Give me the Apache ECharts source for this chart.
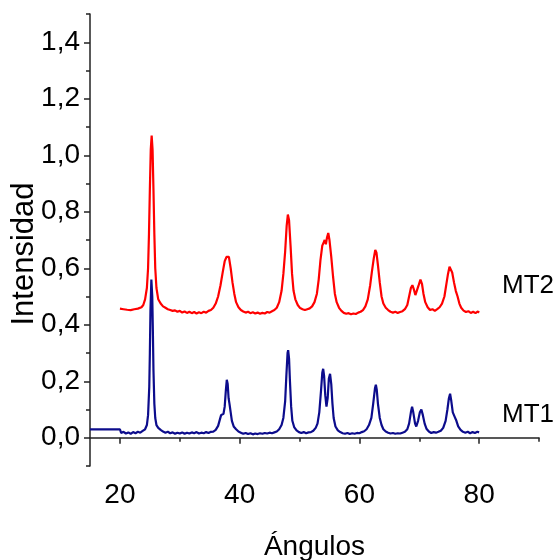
<!DOCTYPE html>
<html>
<head>
<meta charset="utf-8">
<script src="https://cdn.jsdelivr.net/npm/echarts@6/dist/echarts.min.js"></script>
<style>html,body{margin:0;padding:0;background:#fff}#c{width:560px;height:560px}</style>
</head>
<body>
<div id="c"></div>
<script>
// Angle (2θ) / intensity pairs
var mt1 = [
[15.0,0.030],[20.0,0.030],[20.2,0.017],[20.6,0.021],[21.0,0.015],[21.4,0.019],[21.8,0.014],[22.2,0.020],[22.6,0.016],[23.0,0.021],[23.4,0.018],[23.8,0.024],[24.2,0.030],[24.5,0.045],[24.7,0.080],[24.9,0.180],[25.0,0.300],[25.1,0.450],[25.25,0.560],[25.4,0.500],[25.5,0.380],[25.6,0.240],[25.75,0.120],[25.9,0.070],[26.1,0.045],[26.4,0.035],[26.8,0.028],[27.2,0.022],[27.6,0.018],[28.0,0.021],[28.4,0.016],[28.8,0.019],[29.2,0.014],[29.6,0.018],[30.0,0.015],[30.4,0.019],[30.8,0.014],[31.2,0.018],[31.6,0.015],[32.0,0.019],[32.4,0.016],[32.8,0.020],[33.2,0.015],[33.6,0.018],[34.0,0.016],[34.4,0.020],[34.8,0.017],[35.2,0.021],[35.6,0.022],[36.0,0.028],[36.4,0.042],[36.7,0.065],[36.9,0.080],[37.1,0.075],[37.3,0.085],[37.5,0.110],[37.7,0.170],[37.85,0.205],[38.0,0.190],[38.15,0.140],[38.3,0.120],[38.5,0.090],[38.7,0.060],[39.0,0.040],[39.4,0.030],[39.8,0.022],[40.2,0.018],[40.6,0.014],[41.0,0.017],[41.4,0.013],[41.8,0.016],[42.2,0.012],[42.6,0.015],[43.0,0.013],[43.4,0.016],[43.8,0.014],[44.2,0.017],[44.6,0.015],[45.0,0.018],[45.4,0.016],[45.8,0.019],[46.2,0.022],[46.6,0.030],[47.0,0.045],[47.3,0.070],[47.6,0.130],[47.8,0.220],[48.0,0.300],[48.1,0.310],[48.25,0.280],[48.4,0.200],[48.6,0.110],[48.8,0.060],[49.1,0.038],[49.5,0.026],[49.9,0.020],[50.3,0.017],[50.7,0.020],[51.1,0.016],[51.5,0.019],[51.9,0.020],[52.3,0.025],[52.7,0.035],[53.0,0.050],[53.3,0.090],[53.6,0.170],[53.8,0.230],[53.95,0.244],[54.1,0.220],[54.3,0.150],[54.5,0.110],[54.7,0.140],[54.9,0.210],[55.1,0.226],[55.3,0.190],[55.5,0.120],[55.7,0.070],[56.0,0.040],[56.4,0.026],[56.8,0.020],[57.2,0.016],[57.6,0.014],[58.0,0.017],[58.4,0.013],[58.8,0.016],[59.2,0.014],[59.6,0.017],[60.0,0.016],[60.4,0.020],[60.8,0.023],[61.2,0.030],[61.6,0.045],[62.0,0.070],[62.3,0.120],[62.6,0.175],[62.75,0.188],[62.9,0.170],[63.1,0.120],[63.4,0.070],[63.7,0.045],[64.0,0.030],[64.4,0.022],[64.8,0.018],[65.2,0.015],[65.6,0.017],[66.0,0.014],[66.4,0.016],[66.8,0.015],[67.2,0.018],[67.6,0.021],[68.0,0.030],[68.3,0.050],[68.6,0.090],[68.8,0.110],[69.0,0.090],[69.3,0.050],[69.5,0.040],[69.8,0.060],[70.1,0.090],[70.35,0.100],[70.6,0.080],[70.9,0.050],[71.2,0.032],[71.6,0.022],[72.0,0.017],[72.4,0.020],[72.8,0.018],[73.2,0.021],[73.6,0.025],[74.0,0.035],[74.4,0.060],[74.7,0.100],[74.95,0.140],[75.15,0.156],[75.35,0.130],[75.6,0.090],[75.9,0.075],[76.2,0.060],[76.5,0.040],[76.9,0.028],[77.3,0.021],[77.7,0.018],[78.1,0.021],[78.5,0.016],[78.9,0.020],[79.3,0.017],[79.7,0.021],[80.0,0.019]
];
var mt2 = [
[20.0,0.457],[20.3,0.450],[20.6,0.455],[20.9,0.448],[21.2,0.453],[21.5,0.447],[21.8,0.452],[22.1,0.449],[22.4,0.455],[22.7,0.451],[23.0,0.457],[23.3,0.454],[23.6,0.462],[23.9,0.470],[24.2,0.490],[24.5,0.530],[24.7,0.600],[24.85,0.720],[25.0,0.880],[25.15,1.020],[25.3,1.070],[25.45,1.020],[25.6,0.880],[25.75,0.720],[25.9,0.600],[26.1,0.530],[26.4,0.490],[26.8,0.475],[27.2,0.465],[27.6,0.460],[28.0,0.455],[28.4,0.452],[28.8,0.449],[29.2,0.451],[29.6,0.446],[30.0,0.449],[30.4,0.443],[30.8,0.447],[31.2,0.442],[31.6,0.446],[32.0,0.441],[32.4,0.445],[32.8,0.440],[33.2,0.444],[33.6,0.441],[34.0,0.446],[34.4,0.443],[34.8,0.449],[35.2,0.452],[35.6,0.460],[36.0,0.475],[36.4,0.500],[36.8,0.540],[37.2,0.590],[37.5,0.625],[37.8,0.640],[38.0,0.645],[38.2,0.640],[38.5,0.600],[38.8,0.550],[39.1,0.510],[39.4,0.480],[39.8,0.462],[40.2,0.452],[40.6,0.447],[41.0,0.443],[41.4,0.446],[41.8,0.441],[42.2,0.444],[42.6,0.440],[43.0,0.443],[43.4,0.439],[43.8,0.442],[44.2,0.440],[44.6,0.445],[45.0,0.443],[45.4,0.448],[45.8,0.452],[46.2,0.460],[46.6,0.480],[47.0,0.520],[47.3,0.580],[47.6,0.660],[47.85,0.750],[48.05,0.790],[48.25,0.770],[48.5,0.680],[48.75,0.580],[49.0,0.520],[49.3,0.490],[49.7,0.470],[50.1,0.459],[50.5,0.455],[50.9,0.452],[51.3,0.455],[51.7,0.458],[52.1,0.465],[52.5,0.480],[52.9,0.510],[53.2,0.560],[53.5,0.630],[53.8,0.680],[54.0,0.690],[54.2,0.700],[54.4,0.685],[54.6,0.710],[54.8,0.725],[55.0,0.700],[55.3,0.640],[55.6,0.570],[55.9,0.510],[56.2,0.480],[56.6,0.460],[57.0,0.449],[57.4,0.442],[57.8,0.439],[58.2,0.441],[58.6,0.437],[59.0,0.440],[59.4,0.438],[59.8,0.443],[60.2,0.446],[60.6,0.452],[61.0,0.465],[61.4,0.490],[61.8,0.540],[62.1,0.590],[62.4,0.635],[62.65,0.665],[62.85,0.655],[63.1,0.610],[63.4,0.550],[63.7,0.500],[64.0,0.475],[64.4,0.460],[64.8,0.452],[65.2,0.446],[65.6,0.443],[66.0,0.446],[66.4,0.442],[66.8,0.445],[67.2,0.448],[67.6,0.455],[68.0,0.470],[68.3,0.500],[68.6,0.530],[68.85,0.540],[69.1,0.525],[69.35,0.505],[69.6,0.510],[69.9,0.540],[70.2,0.560],[70.45,0.545],[70.7,0.510],[71.0,0.480],[71.4,0.462],[71.8,0.452],[72.2,0.455],[72.6,0.449],[73.0,0.455],[73.4,0.462],[73.8,0.475],[74.2,0.500],[74.5,0.540],[74.8,0.580],[75.05,0.605],[75.25,0.610],[75.5,0.585],[75.8,0.550],[76.1,0.520],[76.4,0.500],[76.7,0.475],[77.0,0.460],[77.4,0.450],[77.8,0.445],[78.2,0.448],[78.6,0.442],[79.0,0.446],[79.4,0.441],[79.8,0.447],[80.0,0.443]
];
var seriesNames = ['MT1', 'MT2'];
var xMajorTicks = [20, 40, 60, 80];
var xMinorTicks = [30, 50, 70, 90];
var yMajorTicks = [0, 0.2, 0.4, 0.6, 0.8, 1.0, 1.2, 1.4];
var yMinorTicks = [-0.1, 0.1, 0.3, 0.5, 0.7, 0.9, 1.1, 1.3, 1.5];
var xTitle = 'Ángulos';
var yTitle = 'Intensidad';

var FONT = "'Liberation Sans', Arial, sans-serif";
var AX = '#222';
var chart = echarts.init(document.getElementById('c'), null, {renderer: 'canvas'});
chart.setOption({
  animation: false,
  backgroundColor: '#fff',
  grid: {left: 90, top: 14, right: 21, bottom: 94, containLabel: false, outerBoundsMode: 'none'},
  xAxis: [{
    type: 'value', min: 15, max: 90, position: 'bottom',
    axisLine: {show: true, lineStyle: {color: AX, width: 1.5}},
    axisTick: {show: true, customValues: xMajorTicks, length: 6, lineStyle: {color: AX, width: 1.5}},
    axisLabel: {customValues: xMajorTicks, color: '#000', fontFamily: FONT, fontSize: 28, margin: 15},
    splitLine: {show: false},
    name: xTitle, nameLocation: 'middle', nameGap: 67,
    nameTextStyle: {color: '#000', fontFamily: FONT, fontSize: 28}
  }, {
    type: 'value', min: 15, max: 90, position: 'bottom',
    axisLine: {show: false},
    axisTick: {show: true, customValues: xMinorTicks, length: 4, lineStyle: {color: AX, width: 1.5}},
    axisLabel: {show: false},
    splitLine: {show: false}
  }],
  yAxis: [{
    type: 'value', min: -0.1, max: 1.5, position: 'left',
    axisLine: {show: true, lineStyle: {color: AX, width: 1.5}},
    axisTick: {show: true, customValues: yMajorTicks, length: 6, lineStyle: {color: AX, width: 1.5}},
    axisLabel: {customValues: yMajorTicks, color: '#000', fontFamily: FONT, fontSize: 28, margin: 10,
      formatter: function (v) { return v.toFixed(1).replace('.', ','); }},
    splitLine: {show: false}
  }, {
    type: 'value', min: -0.1, max: 1.5, position: 'left',
    axisLine: {show: false},
    axisTick: {show: true, customValues: yMinorTicks, length: 4, lineStyle: {color: AX, width: 1.5}},
    axisLabel: {show: false},
    splitLine: {show: false}
  }],
  series: [{
    name: seriesNames[0], type: 'line', data: mt1, showSymbol: false, symbol: 'none',
    lineStyle: {color: '#0c0c8c', width: 2.2}, z: 3
  }, {
    name: seriesNames[1], type: 'line', data: mt2, showSymbol: false, symbol: 'none',
    lineStyle: {color: '#ff0000', width: 2.2}, z: 2
  }],
  graphic: [
    {type: 'text', x: 24, y: 254, rotation: Math.PI / 2,
      style: {text: yTitle, fontFamily: FONT, fontSize: 31, fill: '#000', align: 'center', verticalAlign: 'middle'}},
    {type: 'text', left: 502, top: 273, style: {text: seriesNames[1], fontFamily: FONT, fontSize: 26, fill: '#000'}},
    {type: 'text', left: 502, top: 402, style: {text: seriesNames[0], fontFamily: FONT, fontSize: 26, fill: '#000'}}
  ]
});
</script>
</body>
</html>
